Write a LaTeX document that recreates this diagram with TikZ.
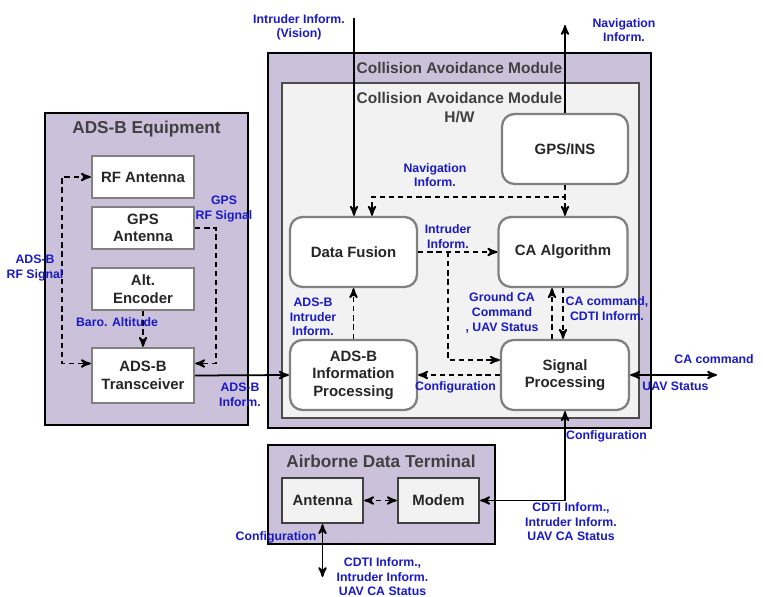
\documentclass[tikz,border=0pt]{standalone}
\usepackage{fontspec}
\setmainfont{Liberation Sans}
\usetikzlibrary{arrows,positioning,calc}
\definecolor{boxpurple}{RGB}{204,193,218}
\definecolor{hwgray}{RGB}{242,242,242}
\definecolor{edgegray}{RGB}{128,128,128}
\definecolor{lblblue}{RGB}{25,25,200}
\definecolor{txtgray}{RGB}{64,64,64}

\begin{document}
\begin{tikzpicture}[x=0.02cm, y=-0.02cm, >=stealth', line width=1pt,
    grp/.style={draw, line width=1.3pt, fill=boxpurple},
    hwbox/.style={draw=black!70, line width=1pt, fill=hwgray},
    blk/.style={draw=edgegray, line width=1.3pt, fill=white, align=center, text=black!85,
      font=\fontsize{8.5}{10}\selectfont\bfseries, minimum width=2.04cm, minimum height=0.84cm},
    rblk/.style={blk, rounded corners=2.5mm, minimum width=2.54cm, minimum height=1.4cm},
    ttl/.style={text=txtgray, font=\fontsize{9.8}{11.5}\selectfont\bfseries, align=center},
    lbl/.style={text=lblblue, font=\fontsize{7}{8.3}\selectfont\bfseries, align=center, inner sep=0pt},
    dsh/.style={dash pattern=on 3pt off 2.2pt}]
    \useasboundingbox (0,0) rectangle (763,597);
    % ADS-B equipment
    \node[grp, minimum width=4.06cm, minimum height=6.24cm] (eq) at (146.5,269) {};
    \node[ttl] (eq_t) at (146.5,129) {ADS-B Equipment};
    \node[blk] (rf) at (143,177) {RF Antenna};
    \node[blk] (gant) at (143,228) {GPS\\Antenna};
    \node[blk] (alt) at (143,289) {Alt.\\Encoder};
    \node[blk, minimum height=1.1cm] (tx) at (143,375.5) {ADS-B\\Transceiver};
    % collision avoidance module
    \node[grp, minimum width=7.66cm, minimum height=7.5cm] (cam) at (459.5,240.5) {};
    \node[ttl, font=\fontsize{8.8}{10.5}\selectfont\bfseries] (cam_t) at (459.5,68) {Collision Avoidance Module};
    \node[hwbox, minimum width=7.14cm, minimum height=6.7cm] (hw) at (460.5,250.5) {};
    \node[ttl, font=\fontsize{8.8}{10.5}\selectfont\bfseries] (hw_t) at (459.5,107.5) {Collision Avoidance Module\\H/W};
    \node[rblk, minimum width=2.52cm] (gps) at (565,149) {GPS/INS};
    \node[rblk] (fus) at (353.5,252) {Data Fusion};
    \node[rblk, minimum width=2.58cm] (caa) at (563,252) {CA Algorithm};
    \node[rblk] (adsp) at (353.5,375) {ADS-B\\Information\\Processing};
    \node[rblk, minimum width=2.56cm] (sig) at (565,375) {Signal\\Processing};
    % airborne data terminal
    \node[grp, minimum width=4.54cm, minimum height=1.98cm] (adt) at (381.5,494.5) {};
    \node[ttl] (adt_t) at (381,461) {Airborne Data Terminal};
    \node[blk, draw=black!75, fill=hwgray, minimum width=1.62cm, minimum height=0.9cm] (ant) at (322.5,500.5) {Antenna};
    \node[blk, draw=black!75, fill=hwgray, minimum width=1.62cm, minimum height=0.9cm] (mdm) at (438.5,500.5) {Modem};

    \coordinate (vis) at (354,18);
    \coordinate (navout) at (565,25);
    \coordinate (navjoin) at (372,197);
    \coordinate (caout) at (717,375);
    \coordinate (antout) at (322.5,577);
    \coordinate (fork) at ($(fus.east)!0.38!(caa.west)$);

    \draw[dsh,<->] (rf.west) -- ++(-29,0) |- ([yshift=0.24cm]tx.west);
    \draw[dsh,->] (gant.east) -- ++(21,0) |- ([yshift=0.24cm]tx.east);
    \draw[dsh,->] (alt.south) -- (tx.north);
    \draw[->] (tx.east) -- (adsp.west);
    \draw[->] (vis) -- (vis |- fus.north);
    \draw[->] (gps.north) -- (navout);
    \draw[dsh,->] (gps.south) -- (gps.south |- caa.north);
    \draw[dsh,->] (gps.south) |- (navjoin) -- (navjoin |- fus.north);
    \draw[dsh,->] (fus.east) -- (caa.west);
    \draw[dsh,->] (fork) |- ([yshift=0.3cm]sig.west);
    \draw[dsh,->] (adsp.north) -- (fus.south);
    \draw[dsh,->] (sig.west) -- (adsp.east);
    \draw[dsh,->] ([xshift=-0.22cm]caa.south |- sig.north) -- ([xshift=-0.22cm]caa.south);
    \draw[dsh,->] (caa.south) -- (caa.south |- sig.north);
    \draw[<->] (sig.east) -- (sig.east -| caout);
    \draw[<->] (sig.south) |- (mdm.east);
    \draw[dsh,<->] (ant.east) -- (mdm.west);
    \draw[<->] (ant.south) -- (antout);

    % labels
    \node[lbl] (l_rfs) at (35,268) {ADS-B\\RF Signal};
    \node[lbl] (l_gpsrf) at (224,209) {GPS\\RF Signal};
    \node[lbl] (l_baro) at (117,322) {Baro. Altitude};
    \node[lbl] (l_adsinf) at (240,395) {ADS-B\\Inform.};
    \node[lbl] (l_vis) at (299,27.5) {Intruder Inform.\\(Vision)};
    \node[lbl] (l_navout) at (624,30) {Navigation\\Inform.};
    \node[lbl] (l_nav) at (435,175) {Navigation\\Inform.};
    \node[lbl] (l_int) at (448,236.5) {Intruder\\Inform.};
    \node[lbl] (l_adsint) at (313,317) {ADS-B\\Intruder\\Inform.};
    \node[lbl] (l_gca) at (502,313) {Ground CA\\Command\\, UAV Status};
    \node[lbl] (l_cacmd) at (607,308.5) {CA command,\\CDTI Inform.};
    \node[lbl] (l_conf) at (455.5,387) {Configuration};
    \node[lbl] (l_caout) at (714,359) {CA command};
    \node[lbl] (l_uav) at (675.5,386) {UAV Status};
    \node[lbl] (l_conf2) at (606.5,436) {Configuration};
    \node[lbl] (l_cdti) at (571,522) {CDTI Inform.,\\Intruder Inform.\\UAV CA Status};
    \node[lbl] (l_conf3) at (276,537) {Configuration};
    \node[lbl] (l_cdti2) at (382.5,577) {CDTI Inform.,\\Intruder Inform.\\UAV CA Status};
\end{tikzpicture}
\end{document}
